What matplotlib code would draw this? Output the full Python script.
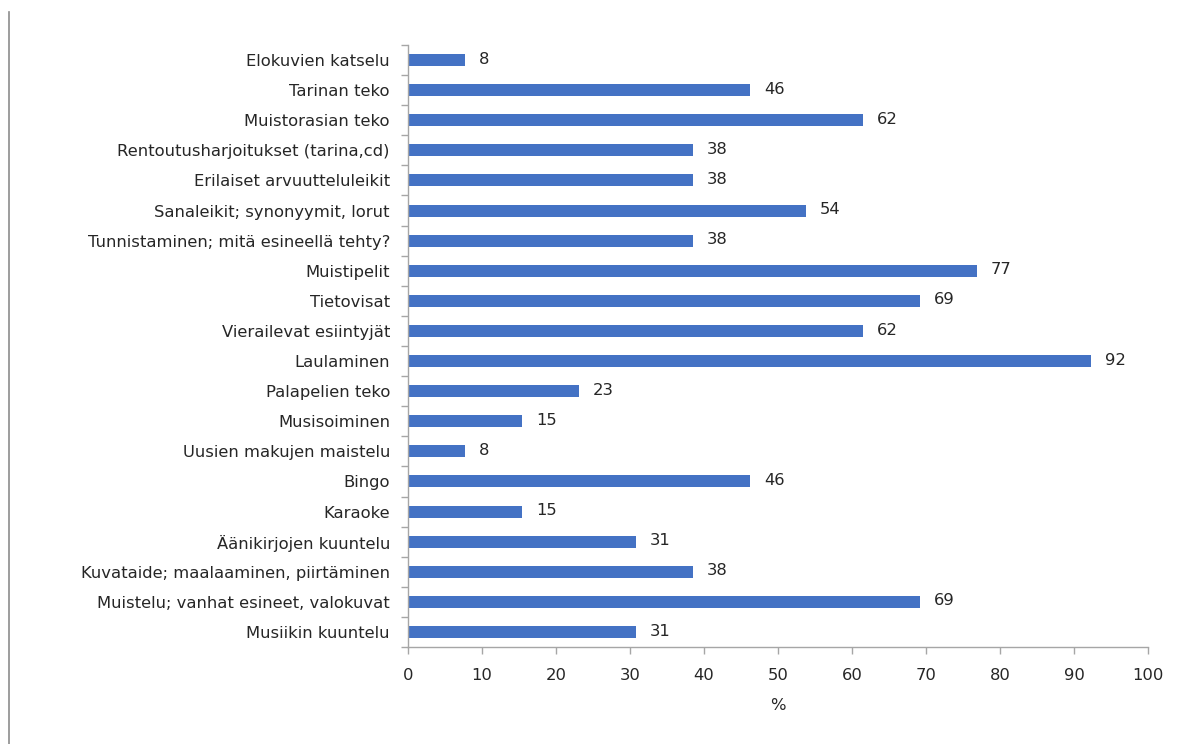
import matplotlib
matplotlib.use("Agg")
import matplotlib.pyplot as plt
from matplotlib.lines import Line2D

categories = [
    "Elokuvien katselu",
    "Tarinan teko",
    "Muistorasian teko",
    "Rentoutusharjoitukset (tarina,cd)",
    "Erilaiset arvuutteluleikit",
    "Sanaleikit; synonyymit, lorut",
    "Tunnistaminen; mitä esineellä tehty?",
    "Muistipelit",
    "Tietovisat",
    "Vierailevat esiintyjät",
    "Laulaminen",
    "Palapelien teko",
    "Musisoiminen",
    "Uusien makujen maistelu",
    "Bingo",
    "Karaoke",
    "Äänikirjojen kuuntelu",
    "Kuvataide; maalaaminen, piirtäminen",
    "Muistelu; vanhat esineet, valokuvat",
    "Musiikin kuuntelu",
]
values = [7.7, 46.2, 61.5, 38.5, 38.5, 53.8, 38.5, 76.9, 69.2, 61.5,
          92.3, 23.1, 15.4, 7.7, 46.2, 15.4, 30.8, 38.5, 69.2, 30.8]
xticks = [0, 10, 20, 30, 40, 50, 60, 70, 80, 90, 100]
xlabel = "%"

plt.rcParams['font.family'] = ['DejaVu Sans']
bar_color = "#4472C4"
grey = "#A6A6A6"
txt = "#262626"
fs = 11.8

fig = plt.figure(figsize=(11.81, 7.44), dpi=100)
ax = fig.add_axes([408/1181, 1-647/744, (1148-408)/1181, (647-45)/744])

pos = list(range(len(categories)))
ax.barh(pos, values, height=0.4, color=bar_color)
for p, v in zip(pos, values):
    ax.text(v + 1.9, p - 0.03, f"{v:.0f}", va="center", ha="left", fontsize=fs, color=txt)

ax.set_ylim(len(categories) - 0.5, -0.5)
ax.set_xlim(0, 100)
ax.set_xticks(xticks)
ax.set_xticklabels([str(t) for t in xticks], fontsize=fs, color=txt)
ax.set_yticks(pos)
ax.set_yticklabels(categories, fontsize=fs, color=txt, va="center_baseline")
ax.tick_params(axis='y', length=0, pad=13)
ax.set_yticks([p - 0.5 for p in pos] + [len(categories) - 0.5], minor=True)
ax.tick_params(axis='y', which='minor', length=5, color=grey, width=1)
ax.tick_params(axis='x', length=5, color=grey, width=1, pad=10)
for s in ['top', 'right']:
    ax.spines[s].set_visible(False)
for s in ['left', 'bottom']:
    ax.spines[s].set_color(grey)
    ax.spines[s].set_linewidth(1)
ax.set_xlabel(xlabel, fontsize=fs, color=txt, labelpad=11)

fig.add_artist(Line2D([9/1181, 9/1181], [0, 1-12/744], transform=fig.transFigure,
                      color="#8C8C8C", linewidth=1.2))

fig.savefig("out.png", dpi=100, facecolor="white")
